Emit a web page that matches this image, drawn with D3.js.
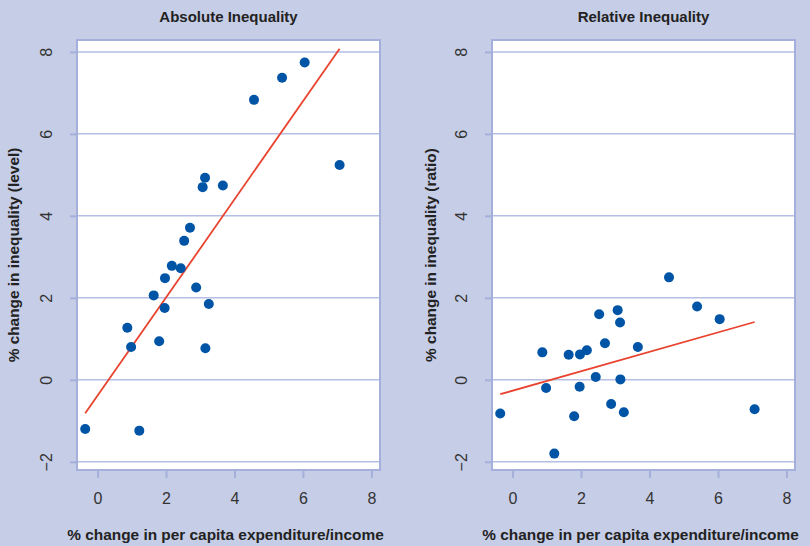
<!DOCTYPE html>
<html>
<head>
<meta charset="utf-8">
<script src="https://cdn.jsdelivr.net/npm/d3@7"></script>
<style>
body { margin: 0; background: #c6cde6; }
svg { display: block; }
.tick text { font-family: "Liberation Sans", Arial, sans-serif; font-size: 16px; fill: #333; }
.ttl { font-family: "Liberation Sans Narrow", "Arial Narrow", sans-serif; font-weight: bold; fill: #222; }
</style>
</head>
<body>
<script>
// shared x: % change in per capita expenditure/income
var xvals = [6.05, 5.39, 4.57, 7.07, 3.14, 3.07, 3.66, 2.70, 2.53, 2.17, 2.43, 1.97, 1.64, 1.96, 2.88, 3.25, 0.87, 0.98, 1.80, 3.15, -0.36, 1.22];
// absolute inequality (level)
var absY = [7.74, 7.37, 6.83, 5.24, 4.93, 4.70, 4.74, 3.71, 3.39, 2.78, 2.72, 2.48, 2.06, 1.75, 2.25, 1.85, 1.27, 0.80, 0.94, 0.77, -1.20, -1.24];
// relative inequality (ratio)
var relY = [1.48, 1.79, 2.50, -0.72, 1.40, 1.70, 0.80, 0.89, 1.60, 0.72, 0.07, 0.62, 0.61, -0.17, -0.59, -0.79, 0.67, -0.20, -0.89, 0.01, -0.82, -1.80];

var xTicks = [0, 2, 4, 6, 8];
var yTicks = [-2, 0, 2, 4, 6, 8];

var panels = [
    { title: "Absolute Inequality", ylab: "% change in inequality (level)", y: absY, left: 77, right: 380, labX: 15 },
    { title: "Relative Inequality", ylab: "% change in inequality (ratio)", y: relY, left: 492, right: 795, labX: 432 }
];

var width = 810;
var height = 546;
var plotTop = 40, plotBottom = 470;
var frame = "#a4afdb", grid = "#b5bee4";

var svg = d3.select("body").append("svg").attr("width", width).attr("height", height);

function fit(xs, ys) {
    var mx = d3.mean(xs), my = d3.mean(ys);
    var sxy = d3.sum(xs, function (d, i) { return (d - mx) * (ys[i] - my); });
    var sxx = d3.sum(xs, function (d) { return (d - mx) * (d - mx); });
    var b = sxy / sxx;
    return { a: my - b * mx, b: b };
}

panels.forEach(function (p) {
    var x = d3.scaleLinear().domain([-0.6, 8.25]).range([p.left, p.right]);
    var y = d3.scaleLinear().domain([-2.2, 8.29]).range([plotBottom, plotTop]);
    var g = svg.append("g");

    g.append("rect").attr("x", p.left).attr("y", plotTop).attr("width", p.right - p.left).attr("height", plotBottom - plotTop)
        .attr("fill", "white");

    g.selectAll("line.grid").data(yTicks).enter().append("line").attr("class", "grid")
        .attr("x1", p.left).attr("x2", p.right)
        .attr("y1", function (d) { return y(d); }).attr("y2", function (d) { return y(d); })
        .attr("stroke", grid).attr("stroke-width", 1.5);

    var xaxis = d3.axisBottom(x).tickValues(xTicks).tickSize(8).tickPadding(15).tickFormat(d3.format("d"));
    var yaxis = d3.axisLeft(y).tickValues(yTicks).tickSize(7).tickPadding(10).tickFormat(d3.format("d"));

    var xa = g.append("g").attr("transform", "translate(0," + plotBottom + ")").call(xaxis);
    var ya = g.append("g").attr("transform", "translate(" + p.left + ",0)").call(yaxis);
    [xa, ya].forEach(function (a) {
        a.select(".domain").remove();
        a.selectAll(".tick line").attr("stroke", frame).attr("stroke-width", 2);
    });
    xa.selectAll(".tick text").attr("dy", "0.71em");
    ya.selectAll(".tick text")
        .attr("text-anchor", "middle").attr("dy", null)
        .attr("transform", "translate(-29,0) rotate(-90)")
        .attr("x", 0).attr("y", 0)
        .attr("dominant-baseline", "middle");

    g.append("rect").attr("x", p.left).attr("y", plotTop).attr("width", p.right - p.left).attr("height", plotBottom - plotTop)
        .attr("fill", "none").attr("stroke", frame).attr("stroke-width", 2);

    var f = fit(xvals, p.y);
    var xr = d3.extent(xvals);
    g.append("line")
        .attr("x1", x(xr[0])).attr("y1", y(f.a + f.b * xr[0]))
        .attr("x2", x(xr[1])).attr("y2", y(f.a + f.b * xr[1]))
        .attr("stroke", "#e8432e").attr("stroke-width", 1.8);

    g.selectAll("circle").data(xvals).enter().append("circle")
        .attr("cx", function (d) { return x(d); })
        .attr("cy", function (d, i) { return y(p.y[i]); })
        .attr("r", 5).attr("fill", "#0054a6");

    var cx = (p.left + p.right) / 2;
    g.append("text").attr("class", "ttl").attr("x", cx).attr("y", 22).attr("text-anchor", "middle")
        .attr("font-size", 15).text(p.title);
    g.append("text").attr("class", "ttl").attr("x", cx - 3).attr("y", 540).attr("text-anchor", "middle")
        .attr("font-size", 15.4).text("% change in per capita expenditure/income");
    g.append("text").attr("class", "ttl").attr("transform", "translate(" + p.labX + "," + ((plotTop + plotBottom) / 2) + ") rotate(-90)")
        .attr("text-anchor", "middle").attr("dominant-baseline", "middle")
        .attr("font-size", 15.4).text(p.ylab);
});
</script>
</body>
</html>
